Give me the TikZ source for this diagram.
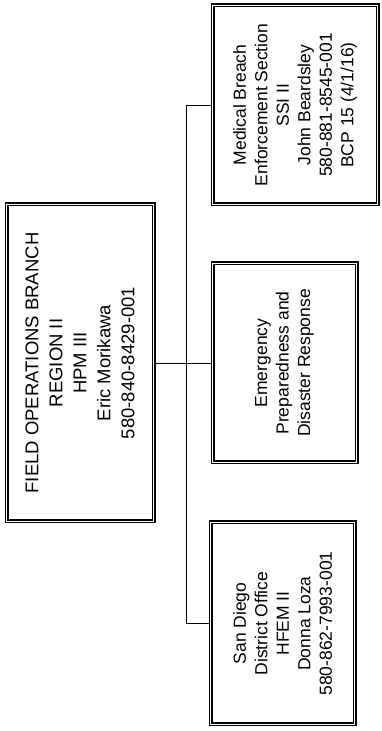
\documentclass[tikz,border=0pt]{standalone}
\usepackage{fontspec}
\setmainfont{Liberation Sans}
\usepackage{tikz}

\begin{document}
\begin{tikzpicture}[x=1pt,y=1pt,
  orgbox/.style={draw,double,double distance=1.8pt,line width=1.1pt,rotate=90,
    align=center,inner sep=0pt,font=\fontsize{17.5}{21.5}\selectfont},
  link/.style={line width=0.9pt}]
\useasboundingbox (0,0) rectangle (382,731);
% head of the branch
\node[orgbox,minimum width=317,minimum height=147,font=\fontsize{18.5}{24}\selectfont] (field) at (80,368)
  {FIELD OPERATIONS BRANCH\\REGION II\\HPM III\\Eric Morikawa\\580-840-8429-001};
% the three sections
\node[orgbox,minimum width=199,minimum height=165] (breach) at (295,626)
  {Medical Breach\\Enforcement Section\\SSI II\\John Beardsley\\580-881-8545-001\\BCP 15 (4/1/16)};
\node[orgbox,minimum width=199,minimum height=144] (emerg) at (284.5,368)
  {Emergency\\Preparedness and\\Disaster Response};
\node[orgbox,minimum width=202,minimum height=144] (sandiego) at (282.5,107.5)
  {San Diego\\District Office\\HFEM II\\Donna Loza\\580-862-7993-001};
% connectors
\coordinate (trunk) at (186,0);
\draw[link] (field.south) -- (emerg.north);
\draw[link] (breach.north) -- (trunk |- breach.north) -- (trunk |- sandiego.north) -- (sandiego.north);
\end{tikzpicture}
\end{document}
